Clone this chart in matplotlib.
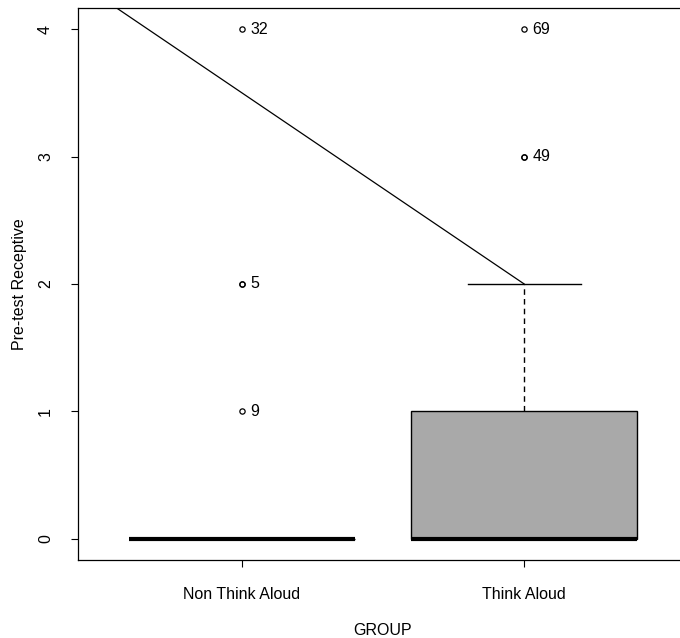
import matplotlib.pyplot as plt

plt.rcParams['font.family'] = ['Liberation Sans', 'DejaVu Sans']

# Box statistics
groups = ["Non Think Aloud", "Think Aloud"]
q1 = [0, 0]
median = [0, 0]
q3 = [0, 1]
whisker_low = [0, 0]
whisker_high = [0, 2]
outliers = [[1, 2, 2, 4], [3, 3, 4]]
outlier_ids = [["9", "5", "", "32"], ["49", "", "69"]]

# Extra line drawn over the plot
line_x = [0, 2]
line_y = [5, 2]

fig = plt.figure(figsize=(6.8, 6.38), dpi=100)
ax = fig.add_axes([78 / 680, 78 / 638, 610 / 680, 552 / 638])

stats = []
for i, g in enumerate(groups):
    stats.append(dict(label=g, med=median[i], q1=q1[i], q3=q3[i],
                      whislo=whisker_low[i], whishi=whisker_high[i],
                      fliers=outliers[i]))

pos = [1, 2]
ax.bxp(stats, positions=pos, widths=0.8, patch_artist=True,
       boxprops=dict(facecolor="#a9a9a9", edgecolor="black", linewidth=1),
       medianprops=dict(color="black", linewidth=3, solid_capstyle="butt"),
       whiskerprops=dict(color="black", linewidth=1, linestyle=(0, (4, 3))),
       capprops=dict(color="black", linewidth=1),
       capwidths=0.4,
       flierprops=dict(marker="o", markersize=3.8, markerfacecolor="none",
                       markeredgecolor="black", markeredgewidth=0.9))

# outlier case labels
for i in range(len(groups)):
    for j, v in enumerate(outliers[i]):
        if outlier_ids[i][j]:
            ax.annotate(outlier_ids[i][j], (pos[i], v), xytext=(6, 0),
                        textcoords="offset points", ha="left", va="center",
                        fontsize=11.5)

ax.plot(line_x, line_y, color="black", linewidth=0.9)

ax.set_xlim(0.42, 2.58)
ax.set_ylim(-0.165, 4.165)
ax.set_yticks([0, 1, 2, 3, 4])
ax.set_yticklabels(["0", "1", "2", "3", "4"], rotation=90, va="center")
ax.set_xticks(pos)
ax.set_xticklabels(groups)
ax.tick_params(labelsize=11.5, length=5, width=0.8, pad=13)
ax.tick_params(axis="x", pad=14.5)
ax.set_xlabel("GROUP", fontsize=11.5, labelpad=15)
ax.set_ylabel("Pre-test Receptive", fontsize=11.5, labelpad=8)
for s in ax.spines.values():
    s.set_linewidth(0.9)

fig.savefig("out.png", dpi=100)
